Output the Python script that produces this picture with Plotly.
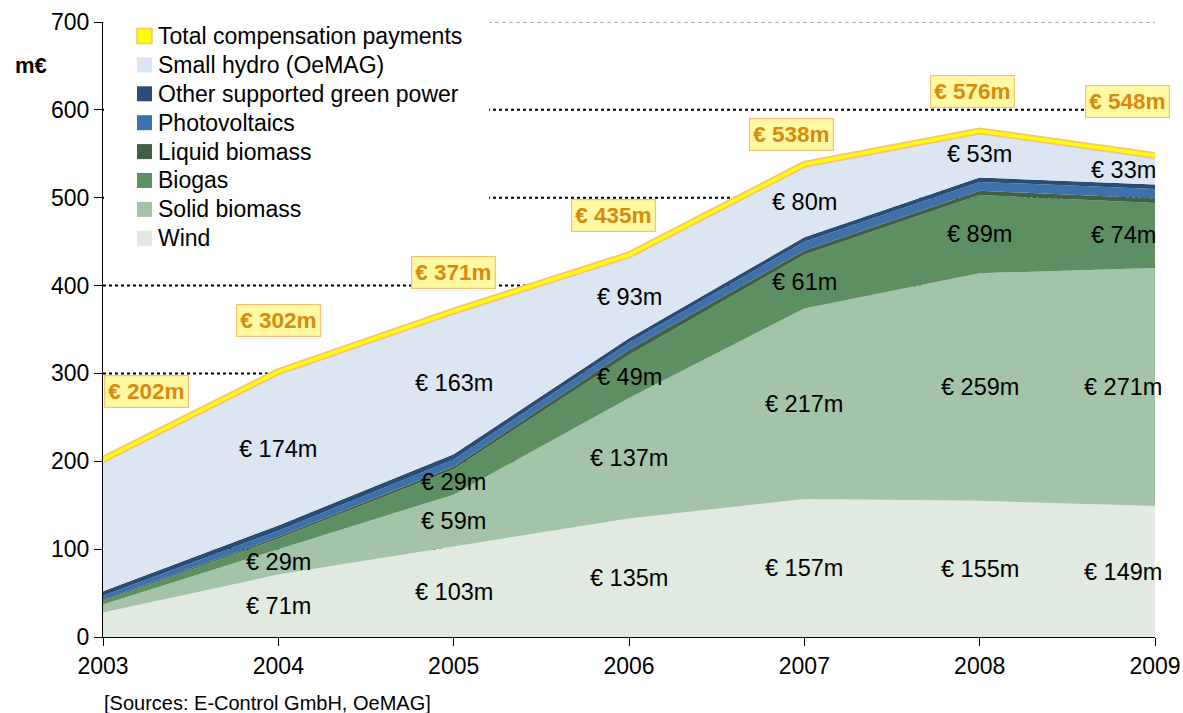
import plotly.graph_objects as go

years = [2003, 2004, 2005, 2006, 2007, 2008, 2009]
wind = [28, 71, 103, 135, 157, 155, 149]
solid_biomass = [9, 29, 59, 137, 217, 259, 271]
biogas = [4, 12, 29, 49, 61, 89, 74]
liquid_biomass = [1, 2, 3, 6, 5, 5, 5]
photovoltaics = [5, 7, 8, 8, 10, 10, 11]
other_green = [5, 6, 6, 5, 5, 5, 5]
small_hydro = [150, 174, 163, 93, 80, 53, 33]
total = [202, 302, 371, 435, 538, 576, 548]

y_ticks = [0, 100, 200, 300, 400, 500, 600, 700]
x_ticks = years

series = [
    ("Wind", wind, "#e0eae0", 1),
    ("Solid biomass", solid_biomass, "#a3c4a8", 1),
    ("Biogas", biogas, "#5e8f62", 2),
    ("Liquid biomass", liquid_biomass, "#405f45", None),
    ("Photovoltaics", photovoltaics, "#3e71ac", None),
    ("Other supported green power", other_green, "#2b4c75", None),
    ("Small hydro (OeMAG)", small_hydro, "#dbe6f2", 1),
]
total_name = "Total compensation payments"

FONT = "Liberation Sans, Arial, Helvetica, sans-serif"

W, H = 1183, 713
L, R, T, B = 103, 28, 22, 76
PW, PH = W - L - R, H - T - B


def px_x(px):  # page pixel -> paper x
    return (px - L) / PW


def px_y(py):  # page pixel -> paper y
    return (H - B - py) / PH


fig = go.Figure()

# stacked areas
for name, vals, color, _ in series:
    fig.add_trace(go.Scatter(
        x=years, y=vals, name=name, stackgroup="one", mode="lines",
        line=dict(width=0, color=color), fillcolor=color,
        showlegend=False, hoverinfo="skip"))

# total line (orange outline + yellow core)
fig.add_trace(go.Scatter(x=years, y=total, mode="lines",
                         line=dict(color="#f8c27c", width=7),
                         showlegend=False, hoverinfo="skip"))
fig.add_trace(go.Scatter(x=years, y=total, mode="lines",
                         line=dict(color="#ffff00", width=3.5),
                         showlegend=False, hoverinfo="skip"))

# gridlines
shapes = []
for v in y_ticks[1:-1]:
    shapes.append(dict(type="line", xref="paper", x0=0, x1=1, yref="y", y0=v, y1=v,
                       line=dict(color="black", width=2, dash="dot"), layer="below"))
shapes.append(dict(type="line", xref="paper", x0=0, x1=1, yref="y", y0=y_ticks[-1], y1=y_ticks[-1],
                   line=dict(color="#9a9a9a", width=1.5, dash="4px,3px"), layer="below"))

# manual legend (white box covering gridlines)
shapes.append(dict(type="rect", xref="paper", yref="paper",
                   x0=px_x(104), x1=px_x(489), y0=px_y(253), y1=px_y(18),
                   fillcolor="white", line=dict(width=0), layer="below"))

annotations = []
legend_items = [(total_name, "#ffff00", "#f8c27c")] + \
    [(n, c, None) for n, _, c, _ in reversed(series)]
for k, (name, color, border) in enumerate(legend_items):
    cy = 36 + k * 28.9
    shapes.append(dict(type="rect", xref="paper", yref="paper",
                       x0=px_x(137), x1=px_x(152), y0=px_y(cy + 7.5), y1=px_y(cy - 7.5),
                       fillcolor=color,
                       line=dict(color=border, width=1.5) if border else dict(width=0),
                       layer="above"))
    annotations.append(dict(xref="paper", yref="paper", x=px_x(156), y=px_y(cy),
                            xanchor="left", yanchor="middle", text=name, showarrow=False,
                            font=dict(family=FONT, size=23, color="black")))

# segment value labels
cum = [0] * len(years)
for name, vals, color, start in series:
    for i, v in enumerate(vals):
        if start is not None and i >= start:
            mid = cum[i] + v / 2
            annotations.append(dict(
                x=years[i], y=mid, text=f"€ {v}m", showarrow=False,
                xshift=-32 if i == len(years) - 1 else 0,
                font=dict(family=FONT, size=23.5, color="black")))
    cum = [c + v for c, v in zip(cum, vals)]

# total labels
total_xshift = [43, 0, 0, -16, -13, -7, -28]
total_yshift = [68, 51, 39, 39, 30, 39, 54]
for i, t in enumerate(total):
    annotations.append(dict(
        x=years[i], y=t, text=f"<b>€ {t}m</b>", showarrow=False,
        xshift=total_xshift[i], yshift=total_yshift[i],
        bgcolor="#fff9a3", bordercolor="#f9c174", borderwidth=1.2, borderpad=3,
        font=dict(family=FONT, size=22.5, color="#d98a0e")))

annotations.append(dict(xref="paper", yref="paper", x=px_x(31), y=px_y(65),
                        xanchor="center", yanchor="middle", text="<b>m€</b>",
                        showarrow=False, font=dict(family=FONT, size=22, color="black")))
annotations.append(dict(xref="paper", yref="paper", x=px_x(102), y=px_y(703),
                        xanchor="left", yanchor="middle",
                        text="[Sources: E-Control GmbH, OeMAG]", showarrow=False,
                        font=dict(family=FONT, size=20, color="black")))

fig.update_layout(
    width=W, height=H,
    margin=dict(l=L, r=R, t=T, b=B, autoexpand=False),
    paper_bgcolor="white", plot_bgcolor="white",
    font=dict(family=FONT, size=23, color="black"),
    shapes=shapes, annotations=annotations,
    showlegend=False,
    xaxis=dict(range=[years[0], years[-1]], tickvals=x_ticks, ticktext=[str(y) for y in x_ticks],
               showgrid=False, zeroline=False, showline=True, linecolor="black", linewidth=1,
               ticks="outside", ticklen=8, tickcolor="black",
               tickfont=dict(family=FONT, size=23)),
    yaxis=dict(range=[0, 700], tickvals=y_ticks, showgrid=False, zeroline=False,
               showline=True, linecolor="black", linewidth=1,
               ticks="outside", ticklen=8, tickcolor="black",
               tickfont=dict(family=FONT, size=23)),
)

fig.write_html(
    "out.html",
    config={"displayModeBar": False},
    post_script="document.body.style.margin='0';document.body.style.overflow='hidden';"
                "document.documentElement.style.overflow='hidden';",
)
